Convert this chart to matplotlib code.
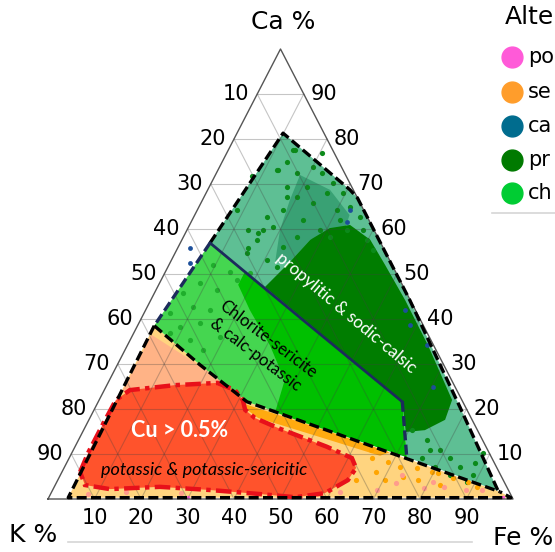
import matplotlib.pyplot as plt
from matplotlib.patches import Polygon
from matplotlib.lines import Line2D

# all points as (Ca %, Fe %); K % = 100 - Ca - Fe
ticks = [10, 20, 30, 40, 50, 60, 70, 80, 90]

sericitic_field = [(38.5, 3.6), (29.8, 17.8), (21.6, 32.0), (1.6, 96.4), (0.3, 99.4), (0.3, 4.2)]
chlorite_field = [(56.9, 6.4), (39.8, 34.9), (21.6, 65.4), (9.3, 72.5), (21.6, 32.0), (29.8, 17.8), (38.5, 3.6)]
propylitic_field = [(81.3, 9.9), (68.7, 30.6), (66.9, 33.1), (44.2, 55.7), (20.4, 78.4), (1.8, 95.9),
                    (9.3, 72.5), (21.6, 65.4), (39.8, 34.9), (56.9, 6.4)]
cu_field = [(6.0, 3.9), (10.4, 3.5), (16.4, 3.5), (22.0, 3.6), (24.2, 5.5), (25.3, 14.6), (25.8, 23.5),
            (24.2, 28.1), (22.0, 30.9), (19.8, 32.5), (18.0, 35.5), (15.6, 42.1), (11.6, 54.2),
            (9.1, 60.8), (6.9, 62.8), (4.2, 62.4), (1.3, 58.9), (0.4, 53.0), (1.1, 45.0), (2.0, 33.8),
            (2.7, 22.7), (2.2, 12.2), (3.1, 6.4)]

# dense clouds of points
propylitic_dense = [(47.1, 23.1), (52.7, 25.7), (57.6, 27.6), (60.2, 30.5), (60.9, 34.5), (57.6, 40.5),
                    (52.0, 46.5), (44.2, 54.7), (34.2, 64.6), (22.0, 75.9), (17.6, 76.6), (15.3, 73.4),
                    (14.9, 69.5), (21.6, 65.4)]
propylitic_mid = [(72.0, 18.2), (68.7, 26.3), (63.1, 33.3), (60.2, 33.8), (57.6, 27.6), (52.7, 25.7),
                  (52.7, 22.5), (59.8, 20.0), (66.4, 18.8)]
chlorite_dense = [(50.4, 17.1), (21.6, 65.4), (9.3, 72.5), (17.3, 45.5), (19.3, 39.2), (26.4, 37.7),
                  (34.2, 30.6), (42.0, 22.4), (47.6, 17.1)]
sericitic_dense = [(36.5, 4.0), (29.6, 17.9), (22.4, 30.7), (25.8, 23.5), (24.2, 5.5), (23.8, 4.0), (30.9, 4.0)]
sericitic_band = [(21.1, 31.8), (14.9, 53.2), (10.4, 68.3), (9.6, 66.6), (13.1, 54.0), (18.0, 36.2), (19.8, 32.9)]

propylitic_pts = [(76.9, 20.5), (71.8, 8.0), (77.6, 14.3), (74.9, 14.0), (72.4, 17.3), (73.1, 12.9),
                  (73.8, 20.1), (72.4, 22.7), (62.7, 15.8), (59.1, 15.6), (55.8, 15.1), (60.4, 18.2),
                  (64.2, 18.4), (67.1, 19.9), (69.3, 21.0), (65.8, 24.1), (68.0, 26.0), (64.2, 30.1),
                  (62.0, 31.8), (62.0, 23.8), (58.2, 24.4), (56.0, 22.5), (53.1, 20.5), (51.6, 23.4),
                  (59.8, 28.6), (58.2, 31.5), (59.8, 34.4), (69.3, 16.7),
                  (77.6, 13.9), (73.1, 12.6), (59.8, 16.3), (67.1, 17.8), (64.2, 8.5), (54.7, 15.5),
                  (57.6, 16.1), (59.8, 13.1), (70.2, 26.2), (68.0, 29.4), (62.7, 35.8), (59.8, 37.8),
                  (64.9, 32.5), (57.6, 39.8), (55.3, 42.2),
                  (15.3, 70.6), (13.1, 74.9), (10.9, 78.9), (9.1, 81.9), (7.1, 85.0), (5.3, 88.7),
                  (10.2, 88.4), (9.1, 75.8), (7.1, 79.6), (5.3, 83.8), (3.8, 88.2), (10.9, 76.8), (8.0, 87.8)]
chlorite_pts = [(52.0, 9.5), (50.4, 13.9), (50.2, 18.3), (48.0, 8.7), (45.8, 6.1), (46.4, 13.1),
                (42.7, 9.9), (41.3, 5.5), (42.0, 13.8), (38.2, 9.3), (39.1, 13.1), (36.0, 19.0),
                (33.1, 16.7), (35.3, 12.8), (48.7, 16.3), (36.9, 7.8)]
sericitic_pts = [(10.9, 64.0), (9.1, 65.2), (8.2, 69.0), (7.1, 72.2), (6.9, 76.0), (6.0, 79.6), (5.8, 81.0),
                 (4.7, 84.7), (3.8, 88.4), (4.2, 70.4), (4.9, 74.0), (6.0, 67.5), (4.2, 77.5), (2.7, 91.0),
                 (3.1, 82.7), (4.2, 64.2)]
salmon_pts = [(5.3, 73.4), (3.6, 73.1), (3.8, 80.9), (2.7, 83.8), (2.4, 79.6), (2.0, 88.8), (2.0, 69.8),
              (2.0, 92.4), (1.5, 62.0), (1.8, 40.0), (1.4, 28.0), (1.6, 16.0), (1.2, 8.0)]
calc_pts = [(38.7, 58.5), (34.2, 64.4), (42.0, 55.8), (24.9, 70.4), (61.6, 33.5), (64.2, 32.8),
            (55.8, 2.6), (52.4, 4.3)]
potassic_pts = [(0.5, 52.0), (0.5, 65.0), (0.5, 97.5), (0.4, 30.0)]

# legend as it shows, cut by the right border
legend_title = 'Alte'
legend_labels = ['po', 'se', 'ca', 'pr', 'ch']
legend_colors = ['#ff5ad8', '#ff9d2b', '#006c8e', '#007a00', '#00cc33']


def tern(ca, fe):
    # Ca at apex, K bottom-left, Fe bottom-right
    return fe / 100 + ca / 200, ca / 100


def xy(points):
    return [tern(ca, fe) for ca, fe in points]


fig = plt.figure(figsize=(5.55, 5.52), dpi=100)
ax = fig.add_axes([48 / 555, 53 / 552, 465 / 555, 450 / 552])
ax.set_xlim(0, 1)
ax.set_ylim(0, 1)
ax.axis('off')

# fields
ax.add_patch(Polygon(xy(sericitic_field), closed=True, fc='#ffd47f', ec='none', zorder=1))
ax.add_patch(Polygon(xy(sericitic_dense), closed=True, fc='#ff9e8c', alpha=0.6, ec='none', zorder=1.5))
ax.add_patch(Polygon(xy(sericitic_band), closed=True, fc='#ffaa10', ec='none', zorder=1.5))
ax.add_patch(Polygon(xy(chlorite_field), closed=True, fc='#45d650', ec='none', zorder=1))
ax.add_patch(Polygon(xy(chlorite_dense), closed=True, fc='#00c000', ec='none', zorder=1.5))
ax.add_patch(Polygon(xy(propylitic_field), closed=True, fc='#5ebf94', ec='none', zorder=1))
ax.add_patch(Polygon(xy(propylitic_mid), closed=True, fc='#1b8a5a', alpha=0.55, ec='none', zorder=1.5))
ax.add_patch(Polygon(xy(propylitic_dense), closed=True, fc='#007d00', ec='none', zorder=1.6))

# points
def dots(points, color, size=14):
    p = xy(points)
    ax.scatter([a for a, b in p], [b for a, b in p], s=size, color=color, lw=0, zorder=3, clip_on=False)

dots(propylitic_pts, '#0b8a1a')
dots(chlorite_pts, '#1fae2c')
dots(sericitic_pts, '#ffa500')
dots(salmon_pts, '#ff9c8c')
dots(calc_pts, '#1d4f9a', 12)
dots(potassic_pts, '#ff5ad8', 6)

# Cu > 0.5% field
ax.add_patch(Polygon(xy(cu_field), closed=True, fc='#ff3c1e', alpha=0.85, ec='none', zorder=4))
ax.add_patch(Polygon(xy(cu_field), closed=True, fc='none', ec='#e8101a', lw=3.2,
                     ls=(0, (3.5, 1.2, 1, 1.2)), zorder=8))

# grid
for v in ticks:
    for a, b in [((v, 0), (v, 100 - v)), ((0, v), (100 - v, v)), ((0, 100 - v), (100 - v, 0))]:
        p = xy([a, b])
        ax.plot([p[0][0], p[1][0]], [p[0][1], p[1][1]], color='0.25', alpha=0.3, lw=0.8, zorder=6)

corners = xy([(0, 0), (0, 100), (100, 0), (0, 0)])
ax.plot([c[0] for c in corners], [c[1] for c in corners], color='#555555', lw=1.0, zorder=7,
        clip_on=False)

# field boundaries
def edge(points, color, ls, lw=2.4):
    p = xy(points)
    ax.plot([a for a, b in p], [b for a, b in p], color=color, ls=ls, lw=lw, zorder=9, clip_on=False)

dash = (0, (3, 1.3))
edge([(56.9, 6.4), (81.3, 9.9), (68.7, 30.6), (66.9, 33.1), (44.2, 55.7), (20.4, 78.4), (1.8, 95.9)],
     'black', dash)
edge([(38.5, 3.6), (29.8, 17.8), (21.6, 32.0), (1.6, 96.4)], 'black', dash)
edge([(38.5, 3.6), (0.3, 4.2), (0.3, 99.4), (1.6, 96.4)], 'black', dash)
edge([(56.9, 6.4), (39.8, 34.9), (21.6, 65.4)], '#1c2b5c', '-', 2.0)
edge([(21.6, 65.4), (9.3, 72.5)], '#1c2b5c', dash)
edge([(56.9, 6.4), (38.5, 3.6)], '#1c2b5c', dash)

# tick labels
for v in ticks:
    ax.annotate(str(v), tern(100 - v, 0), xytext=(-5.5, 0), textcoords='offset points',
                ha='right', va='center', fontsize=15, annotation_clip=False)
    ax.annotate(str(v), tern(v, 100 - v), xytext=(5, 0), textcoords='offset points',
                ha='left', va='center', fontsize=15, annotation_clip=False)
    ax.annotate(str(v), tern(0, v), xytext=(0, -13.5), textcoords='offset points',
                ha='center', va='center', fontsize=15, annotation_clip=False)

fig.text(283 / 555, 1 - 22 / 552, 'Ca %', ha='center', va='center', fontsize=18)
fig.text(33 / 555, 1 - 535 / 552, 'K %', ha='center', va='center', fontsize=18)
fig.text(493 / 555, 1 - 538 / 552, 'Fe %', ha='left', va='center', fontsize=18)

# field labels
ax.text(*tern(41.3, 43.4), 'propylitic & sodic-calsic', rotation=-40, ha='center', va='center',
        fontsize=12.3, color='white', family='Lato', zorder=10)
ax.text(*tern(33.8, 29.1), 'Chlorite-sericite\n& calc-potassic', rotation=-37, ha='center',
        va='center', fontsize=12, family='Lato', linespacing=1.3, zorder=10)
ax.text(*tern(15.3, 20.7), 'Cu > 0.5%', ha='center', va='center', fontsize=15.5, color='white',
        weight='bold', family='Lato', zorder=10)
ax.text(*tern(6.4, 30.3), 'potassic & potassic-sericitic', ha='center', va='center', fontsize=13,
        style='italic', family='Lato', zorder=10)

# legend
fig.text(505 / 555, 1 - 17 / 552, legend_title, ha='left', va='center', fontsize=18)
legend_y = [57, 92, 126, 160, 193]
for lab, col, yy in zip(legend_labels, legend_colors, legend_y):
    fig.add_artist(Line2D([512 / 555], [1 - yy / 552], marker='o', ms=15, color=col, mec=col,
                          transform=fig.transFigure))
    fig.text(528 / 555, 1 - yy / 552, lab, ha='left', va='center', fontsize=15)

fig.add_artist(Line2D([492 / 555, 1], [1 - 213 / 552] * 2, color='#d6d6d6', lw=1.2,
                      transform=fig.transFigure))
fig.add_artist(Line2D([68 / 555, 472 / 555], [1 - 542 / 552] * 2, color='#d6d6d6', lw=1.2,
                      transform=fig.transFigure))

fig.savefig('out.png', dpi=100)
